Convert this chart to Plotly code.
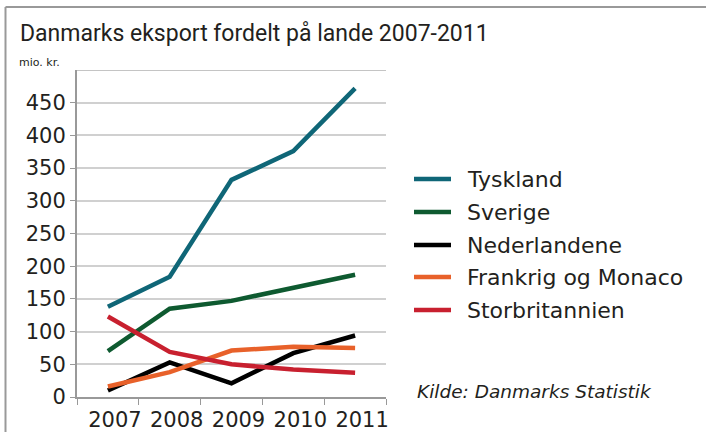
import plotly.graph_objects as go

years = ["2007", "2008", "2009", "2010", "2011"]
tyskland = [138, 184, 332, 376, 472]
sverige = [70, 135, 147, 167, 187]
nederlandene = [10, 53, 21, 67, 94]
frankrig = [16, 38, 71, 77, 75]
storbritannien = [123, 69, 50, 42, 37]
y_ticks = [0, 50, 100, 150, 200, 250, 300, 350, 400, 450]

series = [
    ("Tyskland", tyskland, "#0f6677"),
    ("Sverige", sverige, "#0e5a30"),
    ("Nederlandene", nederlandene, "#000000"),
    ("Frankrig og Monaco", frankrig, "#e8612a"),
    ("Storbritannien", storbritannien, "#c8202f"),
]

W, H = 706, 432
L, R, T, B = 77, 386, 70, 397

def px(x):
    return (x - L) / (R - L)

def py(y):
    return (B - y) / (B - T)

fig = go.Figure()
for name, vals, col in series:
    fig.add_trace(go.Scatter(x=years, y=vals, mode="lines", name=name,
                             line=dict(color=col, width=4.5), showlegend=False))

shapes = []
annotations = []
# frame
shapes.append(dict(type="line", xref="paper", yref="paper", x0=px(5.5), x1=px(706), y0=py(7), y1=py(7),
                   line=dict(color="#999999", width=2)))
shapes.append(dict(type="line", xref="paper", yref="paper", x0=px(5.5), x1=px(5.5), y0=py(7), y1=py(432),
                   line=dict(color="#999999", width=2)))
# top gridline
shapes.append(dict(type="line", xref="paper", yref="y", x0=0, x1=1, y0=500, y1=500,
                   line=dict(color="#b0b0b0", width=1.5)))

# legend
leg_y = [179, 212, 245, 277, 310]
for (name, vals, col), ly in zip(series, leg_y):
    shapes.append(dict(type="line", xref="paper", yref="paper", x0=px(414), x1=px(451), y0=py(ly), y1=py(ly),
                       line=dict(color=col, width=4.5)))
    annotations.append(dict(text=name, xref="paper", yref="paper", x=px(465), y=py(ly), xanchor="left",
                            yanchor="middle", showarrow=False,
                            font=dict(family="DejaVu Sans", size=22, color="#231f20")))

annotations.append(dict(text="Danmarks eksport fordelt på lande 2007-2011", xref="paper", yref="paper",
                        x=px(18), y=py(33), xanchor="left", yanchor="middle", showarrow=False,
                        font=dict(family="Roboto", size=23, color="#231f20")))
annotations.append(dict(text="mio. kr.", xref="paper", yref="paper", x=px(17), y=py(63), xanchor="left",
                        yanchor="middle", showarrow=False,
                        font=dict(family="DejaVu Sans", size=11, color="#231f20")))
annotations.append(dict(text="<i>Kilde: Danmarks Statistik</i>", xref="paper", yref="paper", x=px(415),
                        y=py(391), xanchor="left", yanchor="middle", showarrow=False,
                        font=dict(family="DejaVu Sans", size=18.5, color="#231f20")))

fig.update_layout(
    width=W, height=H,
    margin=dict(l=L, r=W - R, t=T, b=H - B, pad=0, autoexpand=False),
    paper_bgcolor="white", plot_bgcolor="white",
    shapes=shapes, annotations=annotations,
    xaxis=dict(type="category", range=[-0.5, 4.5], tickson="boundaries", ticks="outside", ticklen=6,
               tickcolor="#999999", showline=True, linecolor="#999999", linewidth=2, showgrid=False,
               ticklabelstandoff=3, ticklabelshift=7, tickangle=0, automargin=False,
               tickfont=dict(family="DejaVu Sans", size=21, color="#231f20")),
    yaxis=dict(range=[0, 500], tickvals=y_ticks, ticks="outside", ticklen=5, tickcolor="#999999",
               showline=True, linecolor="#999999", linewidth=2, showgrid=True, gridcolor="#d0d0d0",
               gridwidth=1.5, zeroline=False, automargin=False,
               tickfont=dict(family="DejaVu Sans", size=21, color="#231f20")),
)

fig.write_html("out.html", config={"displayModeBar": False},
               post_script="document.body.style.margin='0';document.body.style.overflow='hidden';")
